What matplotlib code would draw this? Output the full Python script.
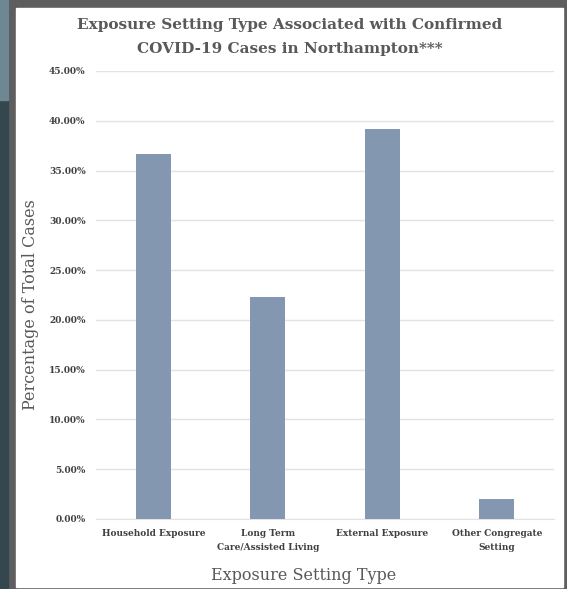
import numpy as np
import matplotlib.pyplot as plt
from matplotlib.patches import Rectangle
from matplotlib.ticker import PercentFormatter

categories = ['Household Exposure', 'Long Term\nCare/Assisted Living',
              'External Exposure', 'Other Congregate\nSetting']
values = [36.7, 22.3, 39.2, 2.0]
yticks = np.arange(0, 46, 5)

W, H = 567, 589
fig = plt.figure(figsize=(W / 100, H / 100), dpi=100, facecolor='#5e5e5e')

# screenshot frame: bluish strip on the left, white chart area
fig.add_artist(Rectangle((0, 0), 8 / W, 1, transform=fig.transFigure,
                         color='#34474f', zorder=0))
fig.add_artist(Rectangle((0, 1 - 100 / H), 8 / W, 100 / H, transform=fig.transFigure,
                         color='#6f8693', zorder=0))
fig.add_artist(Rectangle((16 / W, 1 - 587 / H), (563 - 16) / W, (587 - 8) / H,
                         transform=fig.transFigure, color='white', zorder=0))

ax = fig.add_axes([96 / W, 1 - 519 / H, (554 - 96) / W, (519 - 71) / H])
ax.set_facecolor('none')

x = np.arange(len(categories))
ax.bar(x, values, width=0.31, color='#8497b0', zorder=3)

ax.set_xlim(-0.5, 3.5)
ax.set_ylim(0, 45)
ax.set_yticks(yticks)
ax.yaxis.set_major_formatter(PercentFormatter(decimals=2))
ax.set_xticks(x)
ax.set_xticklabels(categories, fontsize=6.5, fontweight='bold', family='DejaVu Serif',
                   color='#404040', linespacing=1.7)
for lab in ax.get_yticklabels():
    lab.set_fontsize(6.5)
    lab.set_fontweight('bold')
    lab.set_family('DejaVu Serif')
    lab.set_color('#404040')

ax.grid(axis='y', color='#e3e3e3', linewidth=1, zorder=0)
ax.tick_params(length=0)
ax.tick_params(axis='y', pad=7.5)
ax.tick_params(axis='x', pad=7)
for s in ['top', 'right', 'left']:
    ax.spines[s].set_visible(False)
ax.spines['bottom'].set_color('#e3e3e3')

fig.text(289.5 / W, 1 - 25 / H, 'Exposure Setting Type Associated with Confirmed',
         ha='center', va='center', fontsize=11, fontweight='bold',
         family='DejaVu Serif', color='#595959')
fig.text(289.5 / W, 1 - 49 / H, 'COVID-19 Cases in Northampton***',
         ha='center', va='center', fontsize=11, fontweight='bold',
         family='DejaVu Serif', color='#595959')
fig.text(31 / W, 1 - 305 / H, 'Percentage of Total Cases', rotation=90,
         ha='center', va='center', fontsize=11.5, family='DejaVu Serif', color='#595959')
fig.text(304 / W, 1 - 576 / H, 'Exposure Setting Type',
         ha='center', va='center', fontsize=11.5, family='DejaVu Serif', color='#595959')

fig.savefig('out.png', dpi=100, facecolor=fig.get_facecolor())
